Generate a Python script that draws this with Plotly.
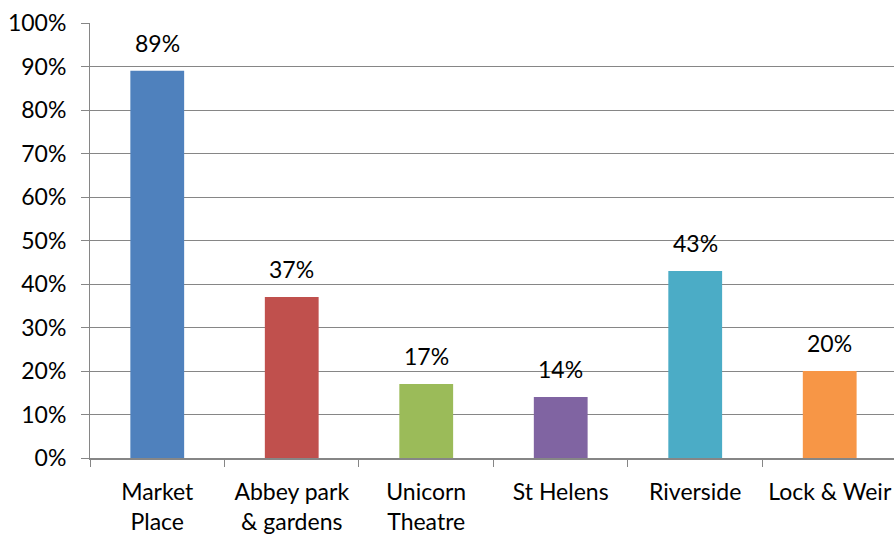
import plotly.graph_objects as go

categories = ["Market<br>Place", "Abbey park<br>& gardens", "Unicorn<br>Theatre",
              "St Helens", "Riverside", "Lock & Weir"]
values = [89, 37, 17, 14, 43, 20]
colors = ["#4F81BD", "#C0504D", "#9BBB59", "#8064A2", "#4BACC6", "#F79646"]
y_ticks = list(range(0, 101, 10))

FONT = "Lato, Carlito, Calibri, sans-serif"
SIZE = 23
AXIS = "#868686"

fig = go.Figure(go.Bar(
    x=categories,
    y=values,
    marker=dict(color=colors, line=dict(width=0)),
    width=0.4,
    hoverinfo="x+y",
))

# value labels sitting above each bar
for cat, v in zip(categories, values):
    fig.add_annotation(
        x=cat, y=v, text=f"{v}%",
        showarrow=False, yanchor="bottom", yshift=12,
        font=dict(family=FONT, size=SIZE, color="#000000"),
    )

fig.update_layout(
    width=894, height=537,
    margin=dict(l=90, r=0, t=23, b=79),
    paper_bgcolor="white", plot_bgcolor="white",
    showlegend=False,
    font=dict(family=FONT, size=SIZE, color="#000000"),
)

fig.update_yaxes(
    range=[0, 100],
    tickvals=y_ticks,
    ticktext=[f"{t}%" for t in y_ticks],
    showgrid=True, gridcolor=AXIS, gridwidth=1,
    showline=True, linecolor=AXIS, linewidth=1,
    ticks="outside", ticklen=8, tickcolor=AXIS,
    ticklabelstandoff=10,
    zeroline=False,
    tickfont=dict(family=FONT, size=SIZE),
)

fig.update_xaxes(
    range=[-0.5, 5.478],
    showline=True, linecolor=AXIS, linewidth=2,
    ticks="outside", ticklen=7, tickcolor=AXIS, tickson="boundaries",
    ticklabelstandoff=12,
    showgrid=False,
    tickfont=dict(family=FONT, size=SIZE),
)

fig.write_html("out.html")
